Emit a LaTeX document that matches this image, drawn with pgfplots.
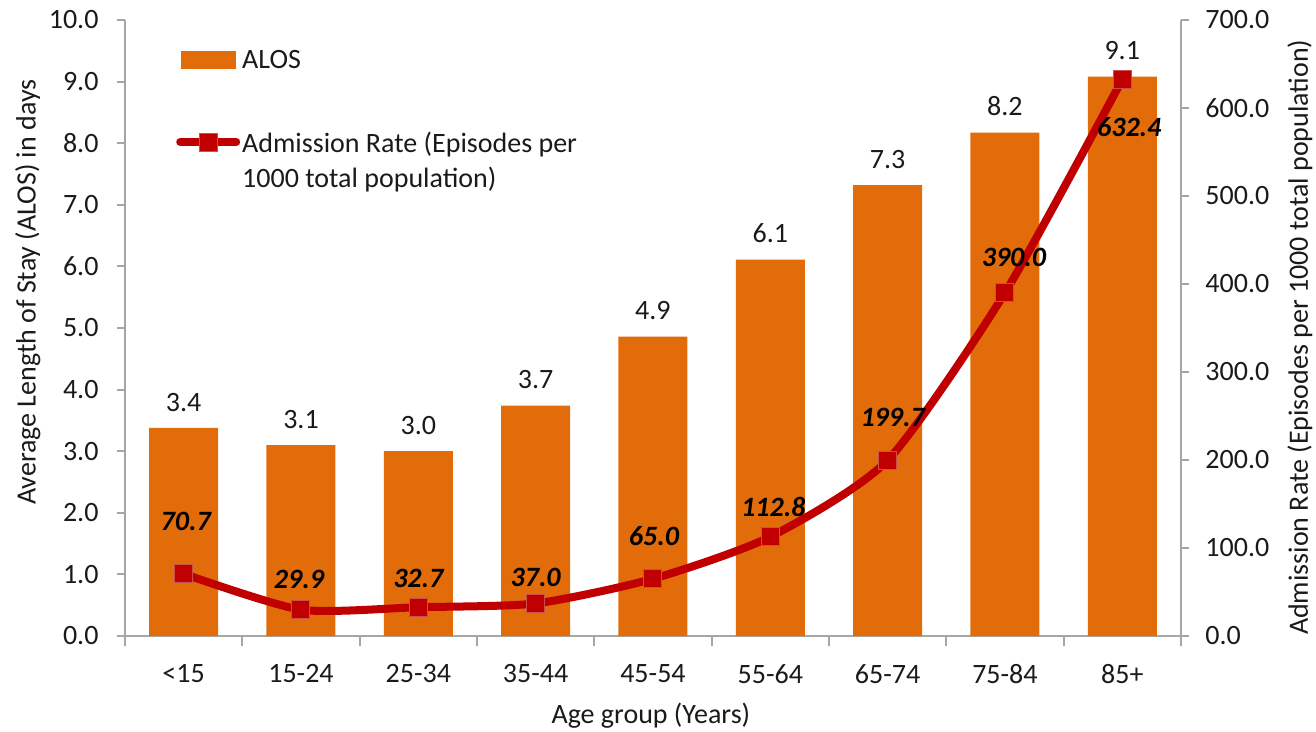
\documentclass[border=0pt]{standalone}
\usepackage{pgfplots}
\usepackage{pgfplotstable}
\pgfplotsset{compat=1.18}
\usepackage{fontspec}
\setmainfont{Carlito}
\definecolor{barorange}{HTML}{E36C0A}
\definecolor{linered}{HTML}{C00000}
\definecolor{markedge}{HTML}{C8504D}
\definecolor{axgray}{HTML}{A6A6A6}
\definecolor{txt}{HTML}{1A1A1A}
\pgfplotsset{
  longline legend/.style={legend image code/.code={
    \draw[mark repeat=2, mark phase=2, line cap=round, ##1] plot coordinates {(6pt,18pt) (34pt,18pt) (62pt,18pt)};}},
  bar legend/.style={legend image code/.code={
    \fill[barorange, draw=none] (7pt,-9pt) rectangle (62pt,9pt);}},
}

\pgfplotstableread{
x alos rate off xoff
0 3.38 70.7 52 2
1 3.10 29.9 30 -2
2 3.00 32.7 29 0
3 3.74 37.0 26 0
4 4.86 65.0 43 1
5 6.11 112.8 30 3
6 7.32 199.7 43 5
7 8.17 390.0 35 9
8 9.08 632.4 -48 7
}\data

\begin{document}
\begin{tikzpicture}[font=\fontsize{28}{34}\selectfont, text=txt]
\path[use as bounding box] (0pt,0pt) rectangle (1316pt,731pt);
\begin{axis}[
  at={(125pt,95pt)}, anchor=south west,
  scale only axis, width=1056pt, height=616pt,
  xmin=-0.5, xmax=8.5, ymin=0, ymax=10,
  axis x line*=bottom, axis y line*=left,
  axis line style={axgray, line width=2pt, -},
  ytick={0,1,...,10},
  yticklabel style={/pgf/number format/fixed, /pgf/number format/fixed zerofill, /pgf/number format/precision=1, /pgf/number format/assume math mode=true, xshift=-15pt},
  xtick={0,...,8},
  xticklabels={<15,15-24,25-34,35-44,45-54,55-64,65-74,75-84,85+},
  xticklabel style={yshift=-17pt},
  minor xtick={-0.5,0.5,...,8.5},
  major x tick style={draw=none},
  minor x tick style={axgray, line width=2pt},
  ytick style={axgray, line width=2pt},
  tick align=outside,
  major tick length=8pt, minor tick length=10pt,
  ybar, bar width=69pt,
  clip=false,
  ylabel={Average Length of Stay (ALOS) in days},
  every axis y label/.style={at={(axis description cs:-0.092,0.558)}, rotate=90, anchor=center},
  xlabel={Age group (Years)},
  every axis x label/.style={at={(axis description cs:0.498,-0.13)}, anchor=center},
  nodes near coords={\pgfmathprintnumber[fixed,fixed zerofill,precision=1,assume math mode=true]{\pgfplotspointmeta}},
  every node near coord/.append style={anchor=south, yshift=13pt, text=txt},
]
\addplot[fill=barorange, draw=none] table[x=x, y=alos] {\data};
\end{axis}
\begin{axis}[
  at={(125pt,95pt)}, anchor=south west,
  scale only axis, width=1056pt, height=616pt,
  xmin=-0.5, xmax=8.5, ymin=0, ymax=700,
  axis x line=none, axis y line*=right,
  axis line style={axgray, line width=2pt, -},
  ytick={0,100,...,700},
  yticklabel style={/pgf/number format/fixed, /pgf/number format/fixed zerofill, /pgf/number format/precision=1, /pgf/number format/assume math mode=true, xshift=13pt},
  ytick style={axgray, line width=2pt},
  tick align=outside, major tick length=8pt,
  clip=false,
  ylabel={Admission Rate (Episodes per 1000 total population)},
  every axis y label/.style={at={(axis description cs:1.1127,0.485)}, rotate=90, anchor=center},
  legend style={at={(axis description cs:0.0483,0.955)}, anchor=north west, draw=none, fill=none,
    inner sep=0pt, row sep=58pt, column sep=0pt, font=\fontsize{28}{35}\selectfont,
    cells={align=left, anchor=west}, nodes={inner sep=2pt}},
  legend cell align=left,
]
\addlegendimage{bar legend}
\addlegendentry{ALOS}
\addplot[linered, line width=8pt, smooth, tension=0.4, mark=square*,
  mark size=9pt, mark options={fill=linered, draw=markedge, line width=1pt},
  longline legend,
  visualization depends on={\thisrow{off}\as\myoff},
  visualization depends on={\thisrow{xoff}\as\myxoff},
  nodes near coords={\pgfmathprintnumber[fixed,fixed zerofill,precision=1,assume math mode=true]{\pgfplotspointmeta}},
  every node near coord/.append style={anchor=center, yshift=\myoff, xshift=\myxoff, text=black, font=\fontsize{28}{34}\selectfont\bfseries\itshape},
] table[x=x, y=rate] {\data};
\addlegendentry{Admission Rate (Episodes per\\1000 total population)}
\end{axis}
\end{tikzpicture}
\end{document}
